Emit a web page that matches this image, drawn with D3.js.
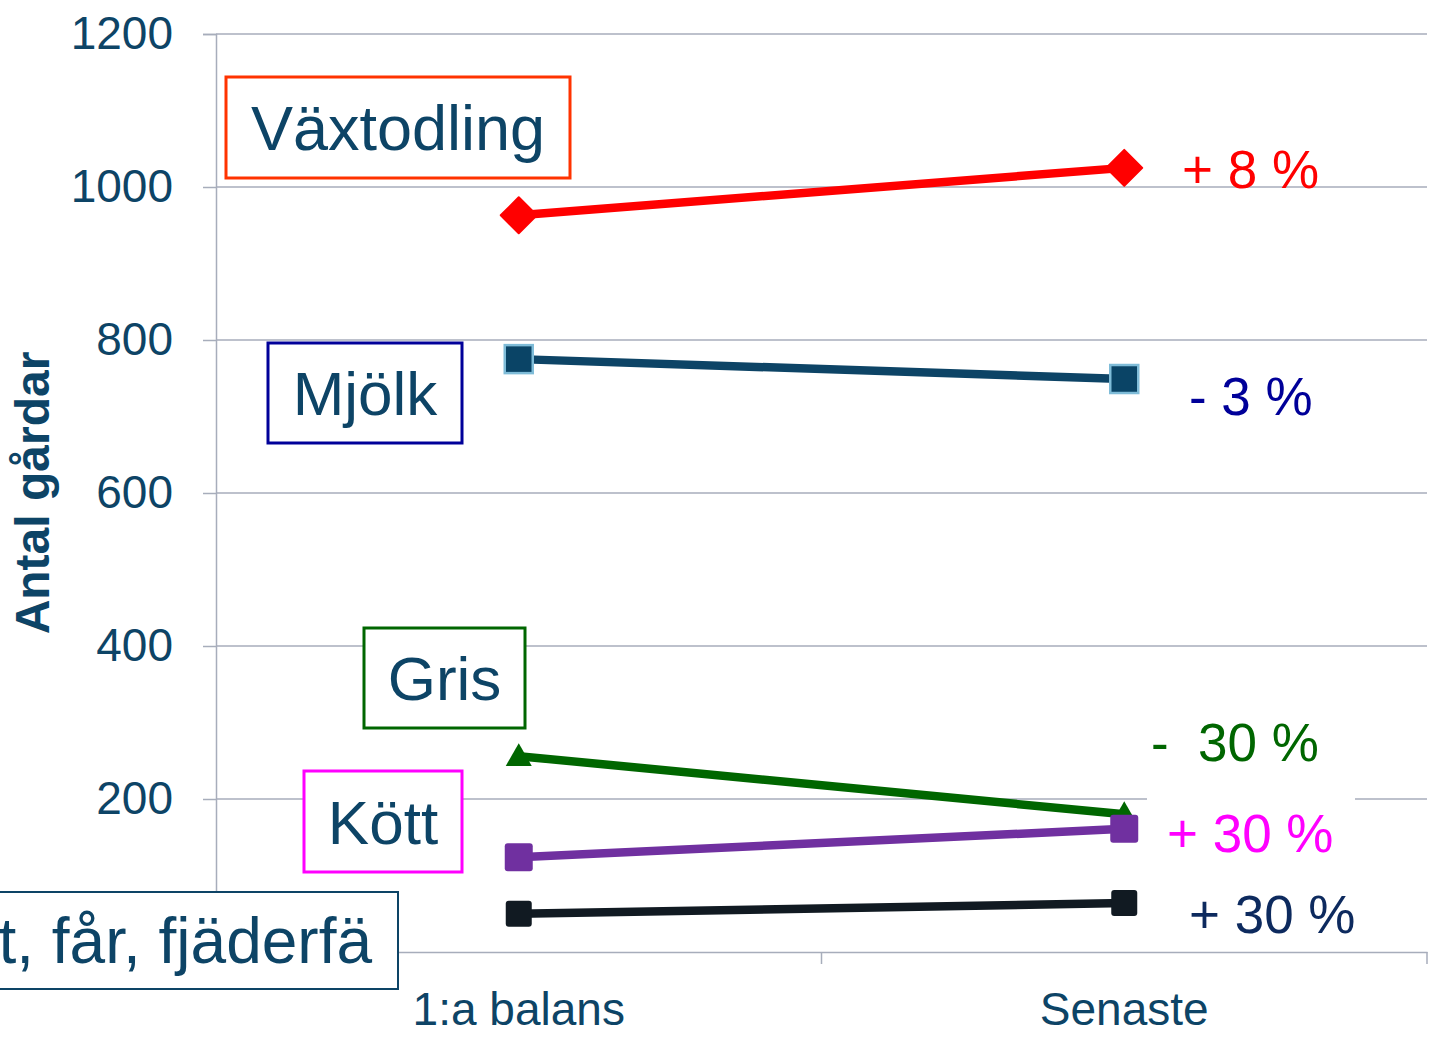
<!DOCTYPE html>
<html>
<head>
<meta charset="utf-8">
<script src="https://cdn.jsdelivr.net/npm/d3@7"></script>
<style>
  body { margin: 0; background: #fff; }
  text { font-family: "Liberation Sans", Arial, sans-serif; }
</style>
</head>
<body>
<div id="chart"></div>
<script>
// data
const categories = ['1:a balans', 'Senaste'];
const vaxtodling = [963, 1025];
const mjolk = [775, 749];
const gris = [256, 180];
const kott = [124, 161];
const notFarFjaderfa = [50, 64];
const yTicks = [200, 400, 600, 800, 1000, 1200];

const seriesNames = ['Växtodling', 'Mjölk', 'Gris', 'Kött', 'Nöt, får, fjäderfä'];
const changeLabels = ['+ 8 %', '- 3 %', '-  30 %', '+ 30 %', '+ 30 %'];

const textColor = '#0d4466';
const W = 1441, H = 1050;
const margin = { top: 34, right: 14, bottom: 98, left: 216 };
const width = W - margin.left - margin.right;
const height = H - margin.top - margin.bottom;

const svg = d3.select('#chart')
  .append('svg')
  .attr('width', W)
  .attr('height', H);

const g = svg.append('g')
  .attr('transform', `translate(${margin.left},${margin.top})`);

const x = d3.scaleBand()
  .domain(categories)
  .range([0, width]);

const y = d3.scaleLinear()
  .domain([0, 1200])
  .range([height, 0]);

// gridlines
g.append('g')
  .selectAll('line')
  .data(yTicks)
  .enter()
  .append('line')
  .attr('x1', 0)
  .attr('x2', width)
  .attr('y1', d => y(d))
  .attr('y2', d => y(d))
  .attr('stroke', '#a7adbb')
  .attr('stroke-width', 1.5);

// y axis
const yAxis = g.append('g')
  .call(d3.axisLeft(y).tickValues([0].concat(yTicks)).tickSize(13).tickPadding(30).tickFormat(d => d === 0 ? '' : d));
yAxis.select('.domain').attr('stroke', '#a7adbb').attr('stroke-width', 1.5);
yAxis.selectAll('.tick line').attr('stroke', '#a7adbb').attr('stroke-width', 1.5);
yAxis.selectAll('.tick text')
  .attr('fill', textColor)
  .style('font-size', '46px')
  .style('font-family', '"Liberation Sans", Arial, sans-serif');

// x axis
const xAxis = g.append('g')
  .attr('transform', `translate(0,${height})`)
  .call(d3.axisBottom(x).tickSize(0).tickPadding(40));
xAxis.select('.domain').attr('stroke', '#a7adbb').attr('stroke-width', 1.5);
xAxis.selectAll('.tick text')
  .attr('fill', textColor)
  .style('font-size', '46px')
  .style('font-family', '"Liberation Sans", Arial, sans-serif');

// category separators
g.append('g')
  .selectAll('line')
  .data([x.step(), 2 * x.step()])
  .enter()
  .append('line')
  .attr('x1', d => d)
  .attr('x2', d => d)
  .attr('y1', height)
  .attr('y2', height + 12)
  .attr('stroke', '#a7adbb')
  .attr('stroke-width', 1.5);

// axis title
svg.append('text')
  .attr('transform', `translate(49,${margin.top + y(600)}) rotate(-90)`)
  .attr('text-anchor', 'middle')
  .attr('fill', textColor)
  .style('font-size', '48px')
  .style('font-weight', 'bold')
  .text('Antal gårdar');

const cx = d => x(d) + x.bandwidth() / 2;

const series = [
  { name: seriesNames[0], values: vaxtodling, color: '#ff0000', marker: 'diamond', fill: '#ff0000', stroke: 'none', size: 36 },
  { name: seriesNames[1], values: mjolk, color: '#0d4466', marker: 'square', fill: '#0a4466', stroke: '#7fbcd8', size: 28 },
  { name: seriesNames[2], values: gris, color: '#006600', marker: 'triangle', fill: '#006600', stroke: 'none', size: 26 },
  { name: seriesNames[3], values: kott, color: '#7030a0', marker: 'square', fill: '#7030a0', stroke: 'none', size: 28 },
  { name: seriesNames[4], values: notFarFjaderfa, color: '#111a22', marker: 'square', fill: '#111a22', stroke: 'none', size: 26 }
];

const line = d3.line()
  .x(d => cx(d.cat))
  .y(d => y(d.v));

series.forEach(s => {
  const pts = categories.map((c, i) => ({ cat: c, v: s.values[i] }));
  g.append('path')
    .attr('d', line(pts))
    .attr('fill', 'none')
    .attr('stroke', s.color)
    .attr('stroke-width', 8.5);

  pts.forEach(p => {
    const px = cx(p.cat), py = y(p.v), r = s.size / 2;
    if (s.marker === 'diamond') {
      g.append('path')
        .attr('d', `M${px},${py - r} L${px + r},${py} L${px},${py + r} L${px - r},${py} Z`)
        .attr('fill', s.fill)
        .attr('stroke', s.fill)
        .attr('stroke-linejoin', 'round')
        .attr('stroke-width', 2);
    } else if (s.marker === 'triangle') {
      g.append('path')
        .attr('d', `M${px},${py - r} L${px + r},${py + r * 0.75} L${px - r},${py + r * 0.75} Z`)
        .attr('fill', s.fill);
    } else {
      g.append('rect')
        .attr('x', px - r)
        .attr('y', py - r)
        .attr('width', s.size)
        .attr('height', s.size)
        .attr('rx', s.stroke === 'none' ? 3 : 0)
        .attr('fill', s.fill)
        .attr('stroke', s.stroke)
        .attr('stroke-width', s.stroke === 'none' ? 0 : 2.5);
    }
  });
});

// change labels on the right
const changeStyle = [
  { color: '#ff0000', x: 1182, y: 188 },
  { color: '#000099', x: 1189, y: 415 },
  { color: '#006600', x: 1151, y: 761 },
  { color: '#ff00ff', x: 1167, y: 852 },
  { color: '#0d2a5e', x: 1189, y: 933 }
];

changeLabels.forEach((t, i) => {
  const st = changeStyle[i];
  if (i === 3) {
    // white label background hides part of the 200 gridline
    svg.append('rect')
      .attr('x', 1147)
      .attr('y', 796)
      .attr('width', 208)
      .attr('height', 70)
      .attr('fill', '#fff');
  }
  svg.append('text')
    .attr('x', st.x)
    .attr('y', st.y)
    .attr('fill', st.color)
    .style('font-size', '53px')
    .style('white-space', 'pre')
    .attr('xml:space', 'preserve')
    .text(t);
});

// boxed series names
const boxes = [
  { x: 226, y: 77, w: 344, h: 101, stroke: '#ff3300', sw: 3, anchor: 'middle', fs: 63 },
  { x: 268, y: 343, w: 194, h: 100, stroke: '#000099', sw: 3, anchor: 'middle', fs: 62 },
  { x: 364, y: 628, w: 161, h: 100, stroke: '#006600', sw: 3, anchor: 'middle', fs: 62 },
  { x: 304, y: 771, w: 158, h: 101, stroke: '#ff00ff', sw: 3, anchor: 'middle', fs: 62 },
  { x: -40, y: 892, w: 438, h: 97, stroke: '#0d4466', sw: 2, anchor: 'end', fs: 64 }
];

boxes.forEach((b, i) => {
  svg.append('rect')
    .attr('x', b.x)
    .attr('y', b.y)
    .attr('width', b.w)
    .attr('height', b.h)
    .attr('fill', '#fff')
    .attr('stroke', b.stroke)
    .attr('stroke-width', b.sw);
  svg.append('text')
    .attr('x', b.anchor === 'end' ? b.x + b.w - 26 : b.x + b.w / 2)
    .attr('y', b.y + b.h / 2 + 22)
    .attr('text-anchor', b.anchor)
    .attr('fill', textColor)
    .style('font-size', b.fs + 'px')
    .text(seriesNames[i]);
});
</script>
</body>
</html>
